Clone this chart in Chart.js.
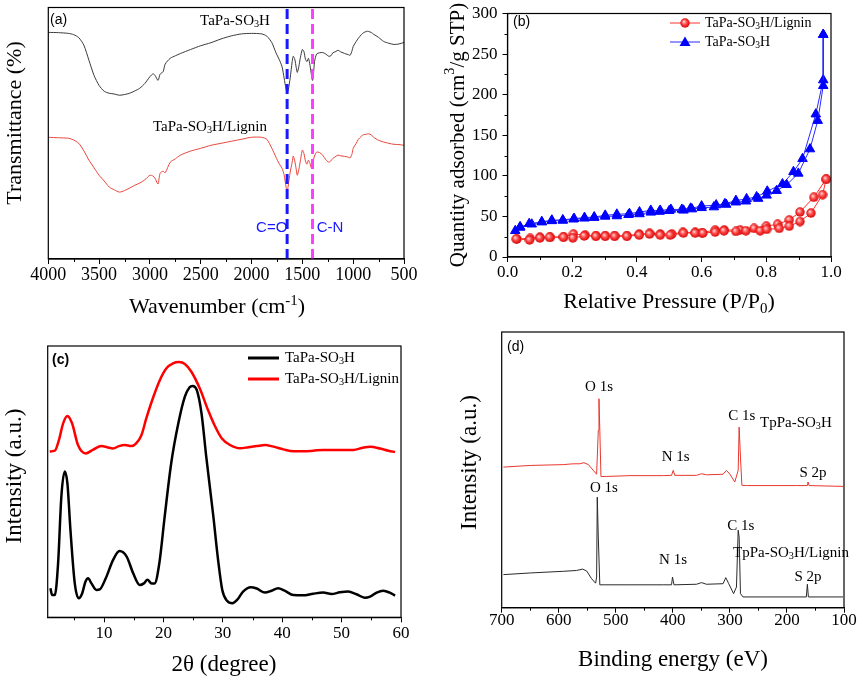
<!DOCTYPE html>
<html><head><meta charset="utf-8">
<script src="https://cdn.jsdelivr.net/npm/chart.js@4.4.1/dist/chart.umd.min.js"></script>
<style>
html,body{margin:0;padding:0;background:#fff;}
#wrap{position:relative;width:859px;height:680px;background:#fff;overflow:hidden;}
canvas{position:absolute;}
</style></head><body>
<div id="wrap">
<canvas id="ca" width="430" height="320" style="left:0;top:0"></canvas>
<canvas id="cb" width="429" height="320" style="left:430px;top:0"></canvas>
<canvas id="cc" width="430" height="360" style="left:0;top:320px"></canvas>
<canvas id="cd" width="429" height="360" style="left:430px;top:320px"></canvas>
</div>
<script>
// ---------- (a) FTIR ----------
const ftirWavenumber = [4000,3900,3800,3750,3700,3650,3600,3550,3500,3450,3400,3350,3300,3250,3200,3150,3100,3050,3000,2970,2950,2920,2900,2870,2850,2800,2750,2700,2600,2500,2400,2300,2200,2100,2000,1900,1850,1800,1760,1730,1700,1680,1660,1650,1640,1620,1600,1590,1575,1560,1550,1535,1520,1500,1485,1470,1455,1440,1425,1410,1400,1390,1380,1360,1330,1300,1270,1240,1220,1200,1170,1150,1120,1100,1070,1050,1030,1010,1000,970,950,920,900,870,850,820,800,750,700,650,600,550,500];
const ftirSO3H = [90.1,90.0,89.7,89.2,88.0,85.0,79.0,73.0,69.0,66.7,65.9,65.6,65.1,65.4,65.9,66.8,67.9,69.8,72.5,73.6,73.0,71.0,73.5,74.5,77.5,79.8,80.8,81.7,83.3,84.8,86.0,87.5,88.7,89.5,89.7,89.5,88.6,86.0,82.0,79.5,76.5,72.0,67.5,66.3,67.0,72.0,78.5,80.6,79.5,76.0,74.2,76.5,80.0,83.3,82.5,79.5,78.5,79.8,77.0,73.0,71.0,74.0,78.5,81.5,82.0,82.1,81.5,80.6,80.8,82.0,82.5,83.0,82.3,82.0,81.5,81.3,81.0,83.0,84.5,86.5,87.7,89.2,89.9,90.5,90.5,90.0,89.4,88.1,86.5,85.8,85.3,85.5,86.1];
const ftirLignin = [48.4,48.2,48.0,47.3,46.0,43.0,39.3,36.3,33.3,31.0,28.6,27.5,26.6,27.2,28.2,29.3,30.2,31.5,33.3,33.0,32.1,29.8,34.1,34.9,34.3,38.5,39.8,41.3,42.9,44.0,45.2,46.0,46.8,47.6,48.4,48.4,47.6,44.0,40.5,38.0,36.1,33.5,28.5,26.6,29.0,34.5,38.5,40.9,39.0,35.5,33.3,35.5,39.0,43.3,42.0,39.0,37.7,39.3,38.0,36.0,37.3,39.5,41.0,42.5,42.3,41.3,39.5,38.5,39.0,40.0,40.8,41.3,41.0,40.9,40.7,40.5,40.2,42.0,44.0,46.0,47.5,48.8,49.4,49.6,49.8,49.3,48.4,47.2,46.5,46.0,45.6,45.5,45.2];
const ftirMarkers = [1650, 1400];
const ftirTicks = [4000,3500,3000,2500,2000,1500,1000,500];
const ftirMinorTicks = [3750,3250,2750,2250,1750,1250,750];

// ---------- (b) N2 isotherms ----------
const so3hAdsP = [0.024,0.039,0.067,0.106,0.137,0.171,0.204,0.238,0.268,0.302,0.338,0.374,0.408,0.443,0.47,0.5,0.544,0.57,0.6,0.638,0.676,0.706,0.737,0.775,0.801,0.832,0.863,0.899,0.935,0.959,0.976,0.976];
const so3hAdsQ = [32.3,36.4,41,43,44.5,45,46.5,47.7,48.5,50,50.5,52,53,55,56,57,57.5,59,60.6,61.5,64.7,67.5,68.7,72,76,81.7,89,103,133,168,211,274];
const so3hDesP = [0.976,0.976,0.953,0.912,0.884,0.85,0.803,0.77,0.739,0.706,0.672,0.645,0.6,0.566,0.539,0.505,0.472,0.443,0.408,0.377,0.338,0.302,0.268,0.238,0.206,0.171,0.137,0.106,0.075,0.039];
const so3hDesQ = [274,218,176,121,105,90,81,74,71.6,69.5,65.5,64,62.7,60,58.6,58.6,57.4,57.4,55.4,53.4,52.6,51.3,49.3,48.5,47.3,45.7,45.3,43.3,40.4,37.2];
const ligninAdsP = [0.027,0.068,0.1,0.13,0.173,0.202,0.237,0.273,0.302,0.331,0.369,0.407,0.439,0.472,0.503,0.544,0.58,0.604,0.642,0.669,0.706,0.737,0.781,0.801,0.84,0.871,0.904,0.938,0.974,0.985];
const ligninAdsQ = [22.2,21,23.5,24.3,24.3,23.5,25.9,25.5,25.5,25.5,25.5,27,28.3,27,27,29.5,29.5,29.5,30.7,32.3,31.5,32.3,32.3,34,35.2,38,43.7,54.2,76.8,95.8];
const ligninDesP = [0.985,0.947,0.904,0.871,0.835,0.8,0.762,0.719,0.67,0.642,0.6,0.58,0.542,0.508,0.472,0.439,0.407,0.369,0.331,0.302,0.273,0.24,0.204,0.173,0.132,0.1,0.07,0.029];
const ligninDesQ = [95.8,73.6,55.4,45.7,40.4,38,35.2,33.2,33.2,33.2,30,30.3,30.3,28.3,28.3,29.1,28.3,26.3,26.3,26.3,26.3,27,28.3,25,24.3,24.3,23,22.2];
const betXTicks = [0,0.2,0.4,0.6,0.8,1.0];
const betXMinorTicks = [0.1,0.3,0.5,0.7,0.9];
const betYTicks = [0,50,100,150,200,250,300];
const betYMinorTicks = [25,75,125,175,225,275];

// ---------- (c) XRD ----------
const xrdAngleSO3H = [0.96,1.24,1.7,2.25,2.8,3.37,3.82,4.33,5.06,5.73,6.3,6.85,7.3,7.87,8.7,9.27,10.28,11.5,12.6,13.8,14.9,16,16.7,17.3,18,18.5,19.3,20.2,21.3,22.5,23.6,24.4,24.9,25.6,26.4,27.2,28.4,29.2,29.9,30.7,31.6,32.4,33.4,34.7,35.7,37.1,38.2,39.3,40.4,41.9,43.5,45.2,46.9,48.3,49.7,51.1,52.5,53.9,54.8,55.9,57,58.1,59];
const xrdSO3H = [10.7,8.2,8.2,19.9,44.5,53.7,49.4,32.2,12.5,7,8.8,13.1,14.4,12.5,10.1,10.3,14.4,21.1,24.4,22.4,16.2,11.9,12.5,13.8,12.5,12.5,19.9,37.1,56.8,71.5,81.3,84.8,85.3,83.8,75.2,59.2,37.1,21.1,10.1,6.1,5.2,6.4,9.5,11.1,10.6,9.1,9.8,10.7,9.8,8.2,8.1,8.7,9.1,8.6,9.2,9.5,8.5,7.2,7.6,9.1,9.8,9.1,8];
const xrdAngleLignin = [0.84,1.7,2.4,3.1,3.82,4.6,5.6,6.9,8.1,9.55,10.5,11.5,12.5,13.5,14.6,15.4,16.3,17.1,18.3,19.4,20.5,21.6,22.6,23.6,24.7,26.1,27.5,28.7,29.8,31.2,32.9,34.3,35.7,37.1,38.5,40.2,41.9,43.5,45.2,46.9,48.6,50.3,52,53.4,54.8,56.5,57.9,59];
const xrdLignin = [61.1,61.4,65.4,71.5,74.2,71.5,63.5,60.4,61.7,63.1,62.7,62.2,63.1,63.5,63.1,64.1,67.2,73.3,81.3,87.5,91.8,93.6,94.1,93.4,90.5,84.4,76.4,70.3,66,63.5,62.3,62.7,63.1,63.5,62.9,61.9,61.2,61.2,61.4,61.7,61.7,61.7,61.7,62.4,62.9,62.2,61.4,60.9];
const xrdTicks = [10,20,30,40,50,60];
const xrdMinorTicks = [5,15,25,35,45,55];

// ---------- (d) XPS survey ----------
const xpsEnergyTop = [697,650,592,574.5,563,556,548,539.5,533.6,530.7,529.5,528,526,516,475,417,402.3,399.4,396.5,358.5,349.8,341,312,306,300,291.4,285.5,283.8,281.5,279,271,183.4,164.2,163,161.3,101.7];
const xpsTop = [51,51.6,51.9,52.2,52.2,52.6,51.9,49.8,48.4,64.3,75.8,64.3,47.6,47.6,47.9,47.9,48,49.8,48,48,48.6,48.2,48.4,49.8,48.4,45.6,49.8,65.5,54.7,44.4,44.3,44.3,44.3,45.6,44.3,44];
const xpsEnergyBottom = [697,650,592,568.7,558,551,542.4,535.4,533.6,532.5,530.7,528,475,417,402.3,400.6,398,358.5,349.8,341,312,307.2,302,293.5,288.5,285.5,283.8,281.5,277,242,166,164.2,162.4,101.7];
const xpsBottom = [12,12.6,13.2,13.5,14,13.3,10.5,8.9,11.1,40.1,25.6,8.3,8.3,8.3,8.3,11.1,8.3,8.5,9.1,8.5,8.7,10.9,8.7,5.1,7.5,28.1,25.6,5.1,3.9,3.9,3.9,8.5,3.9,3.9];
const xpsTicks = [700,600,500,400,300,200,100];
const xpsMinorTicks = [650,550,450,350,250,150];

// ---------- helpers ----------
const SERIF = '"Liberation Serif","Times New Roman",Times,serif';
const SANS = '"Liberation Sans",Arial,Helvetica,sans-serif';
function mkPts(xs, ys){ return xs.map((x,i)=>({x:x, y:ys[i]})); }
function vline(x, lo, hi){ return [{x:x,y:lo},{x:x,y:hi}]; }

function richParts(str){
  const re=/([_^])\{([^}]*)\}/g; const out=[]; let last=0, m;
  while((m=re.exec(str))){ if(m.index>last) out.push([str.slice(last,m.index),0]); out.push([m[2], m[1]==='_'?-1:1]); last=re.lastIndex; }
  if(last<str.length) out.push([str.slice(last),0]);
  return out;
}
function drawRich(ctx, str, x, y, o){
  const parts=richParts(str), size=o.size, fam=o.family||SERIF, wt=o.weight||'normal', small=size*0.68;
  ctx.save(); ctx.translate(x,y); if(o.rotate) ctx.rotate(o.rotate);
  ctx.fillStyle=o.color||'#000'; ctx.textBaseline=o.baseline||'alphabetic'; ctx.textAlign='left';
  let w=0;
  parts.forEach(p=>{ ctx.font=wt+' '+(p[1]?small:size)+'px '+fam; w+=ctx.measureText(p[0]).width; });
  let cx = o.align==='center' ? -w/2 : (o.align==='right' ? -w : 0);
  parts.forEach(p=>{
    ctx.font=wt+' '+(p[1]?small:size)+'px '+fam;
    const dy = p[1]===-1 ? size*0.22 : (p[1]===1 ? -size*0.38 : 0);
    ctx.fillText(p[0], cx, dy); cx+=ctx.measureText(p[0]).width;
  });
  ctx.restore();
}
function sphere(d){
  const c=document.createElement('canvas'); c.width=c.height=d; const g=c.getContext('2d'); const r=d/2;
  const grd=g.createRadialGradient(r*0.75,r*0.7,0.3,r,r,r);
  grd.addColorStop(0,'#ffd6d6'); grd.addColorStop(0.45,'#ff4a4a'); grd.addColorStop(1,'#d40000');
  g.fillStyle=grd; g.beginPath(); g.arc(r,r,r-0.3,0,Math.PI*2); g.fill();
  return c;
}
const ball = sphere(10);

function xAxis(o){
  return {type:'linear', min:o.min, max:o.max, reverse:!!o.reverse,
    afterBuildTicks:s=>{ s.ticks=o.ticks.map(v=>({value:v})); },
    afterFit:s=>{ s.height=o.height; },
    ticks:{autoSkip:false, maxRotation:0, minRotation:0, padding:o.pad, color:'#000',
      font:{family:SERIF, size:o.size, lineHeight:1}, callback:o.fmt || (v=>String(v))},
    grid:{display:true, drawOnChartArea:false, drawTicks:true, tickLength:5, color:'#000', lineWidth:1},
    border:{display:true, color:'#000', width:1.2}
  };
}
function hiddenY(min,max){ return {type:'linear', display:false, min:min, max:max}; }
function baseOpts(padding, scales){
  return {responsive:false, animation:false, devicePixelRatio:1,
    layout:{padding:padding},
    plugins:{legend:{display:false}, tooltip:{enabled:false}},
    elements:{point:{radius:0}},
    scales:scales};
}
function frame(chart){
  const ctx=chart.ctx, a=chart.chartArea;
  ctx.save(); ctx.strokeStyle='#000'; ctx.lineWidth=1.2;
  ctx.strokeRect(a.left, a.top, a.right-a.left, a.bottom-a.top); ctx.restore();
}
function minorX(chart, vals){
  const s=chart.scales.x, a=chart.chartArea, ctx=chart.ctx;
  ctx.save(); ctx.strokeStyle='#000'; ctx.lineWidth=1; ctx.beginPath();
  vals.forEach(v=>{ const p=Math.round(s.getPixelForValue(v))+0.5; ctx.moveTo(p,a.bottom); ctx.lineTo(p,a.bottom+3); });
  ctx.stroke(); ctx.restore();
}
function minorY(chart, vals){
  const s=chart.scales.y, a=chart.chartArea, ctx=chart.ctx;
  ctx.save(); ctx.strokeStyle='#000'; ctx.lineWidth=1; ctx.beginPath();
  vals.forEach(v=>{ const p=Math.round(s.getPixelForValue(v))+0.5; ctx.moveTo(a.left,p); ctx.lineTo(a.left-3,p); });
  ctx.stroke(); ctx.restore();
}
function at(chart, x, y){ return [chart.scales.x.getPixelForValue(x), chart.scales.y.getPixelForValue(y)]; }

// ---------- (a) ----------
new Chart(document.getElementById('ca'), {
  type:'line',
  data:{datasets:[
    {label:'C=O', data:vline(ftirMarkers[0],0,100), borderColor:'#1818ff', borderWidth:3, borderDash:[10,5], pointRadius:0, order:0},
    {label:'C-N', data:vline(ftirMarkers[1],0,100), borderColor:'#ff3cff', borderWidth:3, borderDash:[10,5], pointRadius:0, order:0},
    {label:'TaPa-SO3H', data:mkPts(ftirWavenumber, ftirSO3H), borderColor:'#3a3a3a', borderWidth:1, pointRadius:0, tension:0.25, order:1},
    {label:'TaPa-SO3H/Lignin', data:mkPts(ftirWavenumber, ftirLignin), borderColor:'#e8453c', borderWidth:1, pointRadius:0, tension:0.25, order:1}
  ]},
  options: baseOpts({left:48.3, top:7.5, right:26, bottom:0}, {
    x: xAxis({min:500, max:4000, reverse:true, ticks:ftirTicks, height:61, pad:2, size:18}),
    y: hiddenY(0,100)
  }),
  plugins:[{id:'decorA', afterDraw(chart){
    const ctx=chart.ctx; frame(chart); minorX(chart, ftirMinorTicks);
    let p;
    drawRich(ctx, '(a)', 50, 20, {size:14, family:SANS, baseline:'middle'});
    p=at(chart, 2163, 94.8); drawRich(ctx, 'TaPa-SO_{3}H', p[0], p[1], {size:15, align:'center', baseline:'middle'});
    p=at(chart, 2409, 52.4); drawRich(ctx, 'TaPa-SO_{3}H/Lignin', p[0], p[1], {size:15, align:'center', baseline:'middle'});
    p=at(chart, 1802, 12.3); drawRich(ctx, 'C=O', p[0], p[1], {size:15, family:SANS, align:'center', baseline:'middle', color:'#1818ff'});
    p=at(chart, 1228, 12.3); drawRich(ctx, 'C-N', p[0], p[1], {size:15, family:SANS, align:'center', baseline:'middle', color:'#1818ff'});
    drawRich(ctx, 'Wavenumber (cm^{-1})', 217, 313, {size:22, align:'center'});
    drawRich(ctx, 'Transmittance (%)', 15, 123, {size:22, align:'center', baseline:'middle', rotate:-Math.PI/2});
  }}]
});

// ---------- (b) ----------
new Chart(document.getElementById('cb'), {
  type:'line',
  data:{datasets:[
    {label:'TaPa-SO3H/Lignin', data:mkPts(ligninAdsP, ligninAdsQ), borderColor:'#ff3030', borderWidth:1, pointStyle:ball, pointRadius:5},
    {label:'TaPa-SO3H/Lignin des', data:mkPts(ligninDesP, ligninDesQ), borderColor:'#ff3030', borderWidth:1, pointStyle:ball, pointRadius:5},
    {label:'TaPa-SO3H', data:mkPts(so3hAdsP, so3hAdsQ), borderColor:'#2a2aff', borderWidth:1, pointStyle:'triangle', pointRadius:5.5, backgroundColor:'#0000ff', pointBorderColor:'#0000ff', pointBackgroundColor:'#0000ff'},
    {label:'TaPa-SO3H des', data:mkPts(so3hDesP, so3hDesQ), borderColor:'#2a2aff', borderWidth:1, pointStyle:'triangle', pointRadius:5.5, backgroundColor:'#0000ff', pointBorderColor:'#0000ff', pointBackgroundColor:'#0000ff'}
  ]},
  options: baseOpts({left:0, top:9, right:28, bottom:0}, {
    x: xAxis({min:0, max:1, ticks:betXTicks, height:63, pad:2.5, size:17, fmt:v=>Number(v).toFixed(1)}),
    y: {type:'linear', min:0, max:300,
      afterBuildTicks:s=>{ s.ticks=betYTicks.map(v=>({value:v})); },
      afterFit:s=>{ s.width=77.5; },
      ticks:{padding:5, color:'#000', font:{family:SERIF, size:17, lineHeight:1}, callback:v=>String(v)},
      grid:{display:true, drawOnChartArea:false, drawTicks:true, tickLength:5, color:'#000', lineWidth:1},
      border:{display:true, color:'#000', width:1.2}}
  }),
  plugins:[{id:'decorB', afterDraw(chart){
    const ctx=chart.ctx; frame(chart); minorX(chart, betXMinorTicks); minorY(chart, betYMinorTicks);
    drawRich(ctx, '(b)', 83, 22, {size:14, family:SANS, baseline:'middle'});
    // legend
    ctx.save(); ctx.lineWidth=1;
    ctx.strokeStyle='#ff3030'; ctx.beginPath(); ctx.moveTo(240,23); ctx.lineTo(270,23); ctx.stroke();
    ctx.drawImage(ball, 250, 18);
    ctx.strokeStyle='#2a2aff'; ctx.beginPath(); ctx.moveTo(240,42); ctx.lineTo(270,42); ctx.stroke();
    ctx.fillStyle='#0000ff'; ctx.beginPath(); ctx.moveTo(255,36.5); ctx.lineTo(260.5,46); ctx.lineTo(249.5,46); ctx.closePath(); ctx.fill();
    ctx.restore();
    drawRich(ctx, 'TaPa-SO_{3}H/Lignin', 275, 23, {size:14, baseline:'middle'});
    drawRich(ctx, 'TaPa-SO_{3}H', 275, 42, {size:14, baseline:'middle'});
    drawRich(ctx, 'Relative Pressure (P/P_{0})', 239, 308, {size:22, align:'center'});
    drawRich(ctx, 'Quantity adsorbed (cm^{3}/g STP)', 28.5, 135, {size:21, align:'center', baseline:'middle', rotate:-Math.PI/2});
  }}]
});

// ---------- (c) ----------
new Chart(document.getElementById('cc'), {
  type:'line',
  data:{datasets:[
    {label:'TaPa-SO3H', data:mkPts(xrdAngleSO3H, xrdSO3H), borderColor:'#000000', borderWidth:2.5, pointRadius:0, cubicInterpolationMode:'monotone'},
    {label:'TaPa-SO3H/Lignin', data:mkPts(xrdAngleLignin, xrdLignin), borderColor:'#ff0000', borderWidth:2.5, pointRadius:0, cubicInterpolationMode:'monotone'}
  ]},
  options: baseOpts({left:47.7, top:26, right:29, bottom:0}, {
    x: xAxis({min:0.5, max:60, ticks:xrdTicks, height:62.7, pad:3, size:17}),
    y: hiddenY(0,100)
  }),
  plugins:[{id:'decorC', afterDraw(chart){
    const ctx=chart.ctx; frame(chart); minorX(chart, xrdMinorTicks);
    drawRich(ctx, '(c)', 52, 40.5, {size:14, family:SANS, weight:'bold', baseline:'middle'});
    ctx.save(); ctx.lineWidth=3;
    ctx.strokeStyle='#000'; ctx.beginPath(); ctx.moveTo(248,38); ctx.lineTo(279,38); ctx.stroke();
    ctx.strokeStyle='#ff0000'; ctx.beginPath(); ctx.moveTo(248,59); ctx.lineTo(279,59); ctx.stroke();
    ctx.restore();
    drawRich(ctx, 'TaPa-SO_{3}H', 285, 38, {size:15, baseline:'middle'});
    drawRich(ctx, 'TaPa-SO_{3}H/Lignin', 285, 59, {size:15, baseline:'middle'});
    drawRich(ctx, '2θ (degree)', 224, 351, {size:23, align:'center'});
    drawRich(ctx, 'Intensity (a.u.)', 15, 156, {size:23, align:'center', baseline:'middle', rotate:-Math.PI/2});
  }}]
});

// ---------- (d) ----------
new Chart(document.getElementById('cd'), {
  type:'line',
  data:{datasets:[
    {label:'TpPa-SO3H', data:mkPts(xpsEnergyTop, xpsTop), borderColor:'#e8382f', borderWidth:1, pointRadius:0},
    {label:'TpPa-SO3H/Lignin', data:mkPts(xpsEnergyBottom, xpsBottom), borderColor:'#2a2a2a', borderWidth:1, pointRadius:0}
  ]},
  options: baseOpts({left:71.7, top:12, right:15, bottom:0}, {
    x: xAxis({min:100, max:700, reverse:true, ticks:xpsTicks, height:72.3, pad:-1, size:17}),
    y: hiddenY(0,100)
  }),
  plugins:[{id:'decorD', afterDraw(chart){
    const ctx=chart.ctx; frame(chart); minorX(chart, xpsMinorTicks);
    drawRich(ctx, '(d)', 77, 26.7, {size:14, family:SANS, baseline:'middle'});
    const lab=(t,x,y,al)=>{ const p=at(chart,x,y); drawRich(ctx, t, p[0], p[1], {size:15, align:al||'center', baseline:'middle'}); };
    lab('O 1s', 529.4, 80.0);
    lab('C 1s', 279.3, 69.5);
    lab('TpPa-SO_{3}H', 247.2, 67.0, 'left');
    lab('N 1s', 395, 54.6);
    lab('S 2p', 154.3, 48.9);
    lab('O 1s', 520.7, 43.5);
    lab('C 1s', 281, 29.6);
    lab('TpPa-SO_{3}H/Lignin', 294.5, 19.9, 'left');
    lab('N 1s', 399.7, 17.2);
    lab('S 2p', 163, 11.1);
    drawRich(ctx, 'Binding energy (eV)', 243, 346, {size:23, align:'center'});
    drawRich(ctx, 'Intensity (a.u.)', 40, 142.5, {size:23, align:'center', baseline:'middle', rotate:-Math.PI/2});
  }}]
});
</script>
</body></html>
